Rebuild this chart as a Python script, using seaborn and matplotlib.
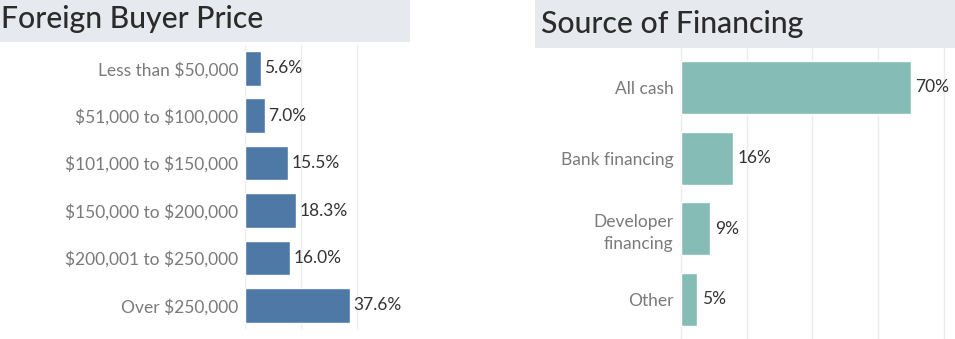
import matplotlib
matplotlib.use("Agg")
import matplotlib.pyplot as plt
import seaborn as sns
import pandas as pd
from matplotlib.patches import Rectangle

price_cats = ["Less than $50,000", "$51,000 to $100,000", "$101,000 to $150,000",
              "$150,000 to $200,000", "$200,001 to $250,000", "Over $250,000"]
price_vals = [5.6, 7.0, 15.5, 18.3, 16.0, 37.6]

fin_cats = ["All cash", "Bank financing", "Developer\nfinancing", "Other"]
fin_vals = [70, 16, 9, 5]

sns.set_theme(style="white")
plt.rcParams['font.family'] = ['Lato', 'DejaVu Sans']
plt.rcParams['text.parse_math'] = False

W, H = 955, 339
fig = plt.figure(figsize=(W / 100, H / 100), dpi=100)
fig.patch.set_facecolor("white")

def px_axes(x0, y0, x1, y1):
    return fig.add_axes([x0 / W, 1 - y1 / H, (x1 - x0) / W, (y1 - y0) / H])

# title bars
fig.patches.append(Rectangle((0, 1 - 42 / H), 410 / W, 42 / H, transform=fig.transFigure,
                             facecolor="#e6eaef", edgecolor="none", zorder=0))
fig.patches.append(Rectangle((535 / W, 1 - 48 / H), (955 - 535) / W, 48 / H, transform=fig.transFigure,
                             facecolor="#e6eaef", edgecolor="none", zorder=0))
fig.text(1 / W, 1 - 28 / H, "Foreign Buyer Price", fontsize=21.7, color="#2b2b2b",
         fontweight="medium", ha="left", va="baseline")
fig.text(541 / W, 1 - 33 / H, "Source of Financing", fontsize=21.7, color="#2b2b2b",
         fontweight="medium", ha="left", va="baseline")

label_color = "#7a7a7a"
value_color = "#333333"
grid_color = "#ececec"

# Left panel
ax1 = px_axes(245, 44.6, 405, 329.2)
df1 = pd.DataFrame({"cat": price_cats, "val": price_vals})
sns.barplot(data=df1, y="cat", x="val", orient="h", color="#4e79a7", saturation=1,
            width=0.73, ax=ax1, zorder=2)
ax1.set_xlim(0, 160 / 2.79)
ax1.set_ylim(5.5, -0.5)
for g in [0, 20, 40]:
    ax1.axvline(g, color=grid_color, lw=1, zorder=0)
for i, v in enumerate(price_vals):
    ax1.annotate(f"{v:.1f}%", (v, i), xytext=(3.5, 0), textcoords="offset pixels",
                 va="center", ha="left", fontsize=12.5, color=value_color)

# Right panel
ax2 = px_axes(680.7, 52, 955, 334.7)
df2 = pd.DataFrame({"cat": fin_cats, "val": fin_vals})
sns.barplot(data=df2, y="cat", x="val", orient="h", color="#86bcb6", saturation=1,
            width=0.75, ax=ax2, zorder=2)
ax2.set_xlim(0, 274.3 / 3.29)
ax2.set_ylim(3.5, -0.5)
for g in [0, 20, 40, 60, 80]:
    ax2.axvline(g, color=grid_color, lw=1, zorder=0, ymin=-0.02, ymax=1.02, clip_on=False)
for i, v in enumerate(fin_vals):
    ax2.annotate(f"{v}%", (v, i), xytext=(4.5, 0), textcoords="offset pixels",
                 va="center", ha="left", fontsize=12.5, color=value_color)

for ax in (ax1, ax2):
    ax.set_xlabel("")
    ax.set_ylabel("")
    ax.set_xticks([])
    for s in ax.spines.values():
        s.set_visible(False)
    ax.tick_params(axis="y", length=0, pad=5, labelsize=12.5, labelcolor=label_color)
    ax.set_facecolor("none")
for lbl in ax2.get_yticklabels():
    lbl.set_horizontalalignment("right")
    lbl.set_multialignment("right")
    lbl.set_linespacing(1.45)

fig.savefig("out.png", dpi=100, facecolor="white")
